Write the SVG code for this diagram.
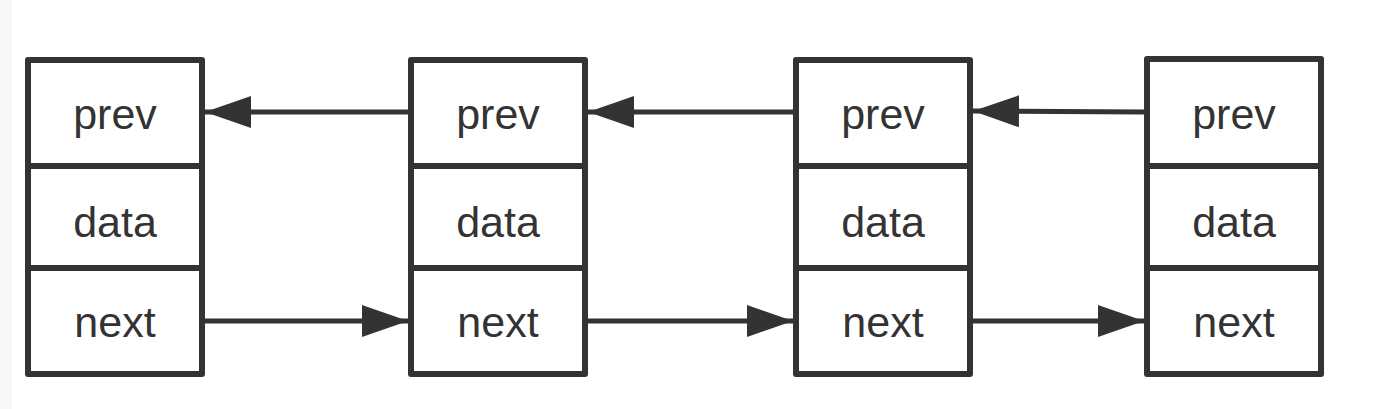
<svg xmlns="http://www.w3.org/2000/svg" width="1377" height="409" viewBox="0 0 1377 409">
<style>
.box{fill:#ffffff;stroke:#333333;stroke-width:6;stroke-linejoin:round}
.div{stroke:#333333;stroke-width:6}
.lbl{font-family:"Liberation Sans",Arial,sans-serif;font-size:43px;fill:#333333;text-anchor:middle}
.edge{stroke:#333333;stroke-width:5;fill:none}
</style>
<defs>
<marker id="ah" markerUnits="userSpaceOnUse" markerWidth="46" markerHeight="32" viewBox="0 0 46 32" refX="46" refY="16" orient="auto">
<path d="M0,0 L46,16 L0,32 Z" fill="#333333"/>
</marker>
</defs>
<rect x="0" y="0" width="1377" height="409" fill="#ffffff"/>
<rect x="0" y="0" width="12" height="409" fill="#f7f7f7"/>
<g id="node1">
<rect class="box" x="28" y="60" width="174" height="314"/>
<line class="div" x1="28" y1="166" x2="202" y2="166"/>
<line class="div" x1="28" y1="268" x2="202" y2="268"/>
<text class="lbl" x="115" y="129">prev</text>
<text class="lbl" x="115" y="237">data</text>
<text class="lbl" x="115" y="337">next</text>
</g>
<g id="node2">
<rect class="box" x="411" y="60" width="174" height="314"/>
<line class="div" x1="411" y1="166" x2="585" y2="166"/>
<line class="div" x1="411" y1="268" x2="585" y2="268"/>
<text class="lbl" x="498" y="129">prev</text>
<text class="lbl" x="498" y="237">data</text>
<text class="lbl" x="498" y="337">next</text>
</g>
<g id="node3">
<rect class="box" x="796" y="60" width="174" height="314"/>
<line class="div" x1="796" y1="166" x2="970" y2="166"/>
<line class="div" x1="796" y1="268" x2="970" y2="268"/>
<text class="lbl" x="883" y="129">prev</text>
<text class="lbl" x="883" y="237">data</text>
<text class="lbl" x="883" y="337">next</text>
</g>
<g id="node4">
<rect class="box" x="1147" y="59" width="174" height="315"/>
<line class="div" x1="1147" y1="166" x2="1321" y2="166"/>
<line class="div" x1="1147" y1="268" x2="1321" y2="268"/>
<text class="lbl" x="1234" y="129">prev</text>
<text class="lbl" x="1234" y="237">data</text>
<text class="lbl" x="1234" y="337">next</text>
</g>
<g id="connectors">
<line class="edge" x1="408" y1="112" x2="205" y2="112" marker-end="url(#ah)"/>
<line class="edge" x1="793" y1="112" x2="588" y2="112" marker-end="url(#ah)"/>
<line class="edge" x1="1144" y1="112" x2="973" y2="111" marker-end="url(#ah)"/>
<line class="edge" x1="205" y1="321" x2="408" y2="321" marker-end="url(#ah)"/>
<line class="edge" x1="588" y1="321" x2="793" y2="321" marker-end="url(#ah)"/>
<line class="edge" x1="973" y1="321" x2="1144" y2="321" marker-end="url(#ah)"/>
</g>
</svg>
